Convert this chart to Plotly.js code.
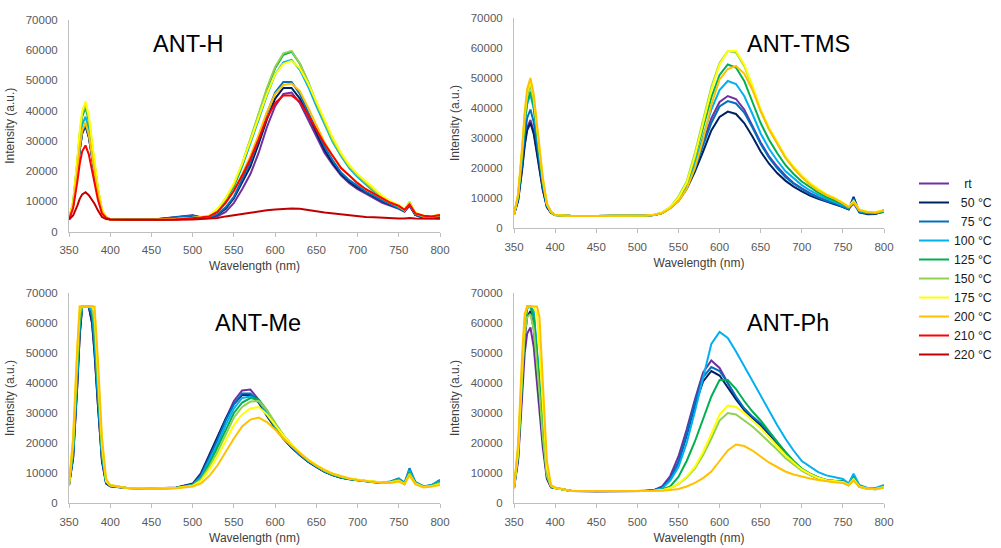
<!DOCTYPE html>
<html>
<head>
<meta charset="utf-8">
<script src="https://cdn.plot.ly/plotly-3.0.1.min.js"></script>
<style>html,body{margin:0;padding:0;background:#fff;}#chart{width:1001px;height:548px;}</style>
</head>
<body>
<div id="chart"></div>
<script>
// ---------------- DATA ----------------
const WAVELENGTH = [350,355,360,363,366,370,374,378,381,385,390,395,400,420,450,480,500,510,
  520,530,540,550,560,570,580,590,600,610,620,630,640,650,660,670,680,690,700,710,720,730,740,750,
  757,763,770,780,790,800];

const SERIES_NAMES = ['rt','50 °C','75 °C','100 °C','125 °C','150 °C','175 °C','200 °C','210 °C','220 °C'];
const PANEL_TITLES = ['ANT-H','ANT-TMS','ANT-Me','ANT-Ph'];

// ANT-H
const H_rt  = [4000,8650,19500,27250,32500,35000,31300,24450,18900,12400,6500,4600,4000,3900,3900,4800,5400,4700,
  4500,5000,6500,9500,14000,19000,26000,34500,41500,45500,46000,42500,37000,31000,26000,22000,18500,16000,14000,12500,11000,9500,8500,7500,
  6500,8500,5500,4500,4500,5000];
const H_50  = [4000,8650,19500,27250,32500,35000,31300,24450,18900,12400,6500,4600,4000,3900,3900,4600,5200,4600,
  4800,5500,7500,11000,16000,21500,29000,37000,44000,47500,47500,44000,38500,32500,27000,22500,19000,16500,14500,13000,11500,10000,8800,7800,
  6800,8800,5500,4600,4600,5000];
const H_75  = [4000,8700,19800,27600,33000,35500,31700,24800,19100,12500,6500,4600,4000,3900,3900,4700,5300,4600,
  4800,5700,8000,11500,17000,23000,30500,39000,46000,49500,49500,45500,39500,33500,28000,23500,19500,17000,15000,13200,11800,10200,9000,7800,
  6800,9000,5600,4700,4600,5000];
const H_100 = [4000,9100,21000,29500,35300,38000,33900,26450,20300,13200,6700,4700,4000,3900,3900,4200,4500,4600,
  5000,7000,10500,15000,21500,29000,37000,45000,52000,56000,56800,53500,48000,41500,35500,29500,25000,21000,18000,15500,13200,11000,9500,8200,
  7000,9300,6000,5000,4800,5300];
const H_125 = [4000,9550,22500,31750,38050,41000,36550,28400,21750,14000,6950,4750,4000,3900,3900,4100,4400,4600,
  5000,7000,10500,15000,22000,30000,38500,47000,54000,58500,59500,55500,49500,42500,36000,30000,25500,21500,18500,16000,13500,11000,9500,8200,
  7000,9700,6000,5000,4800,5500];
const H_150 = [4000,9700,23000,32500,38950,42000,37450,29100,22250,14250,7050,4750,4000,3900,3900,4100,4400,4700,
  5200,7200,11000,15500,22500,30500,39000,47500,54500,59000,59800,55500,49500,42500,36000,30000,25500,21500,18500,16000,13500,11200,9600,8300,
  7000,9800,6000,5000,4800,5500];
const H_175 = [4000,9850,23500,33250,39900,43000,38300,29750,22700,14550,7100,4800,4000,3900,3900,4100,4400,4800,
  5300,7500,11000,16000,22500,30000,38000,45500,52000,55500,56500,54000,49000,43000,37000,31000,26000,22000,19000,16500,14000,11800,10000,8800,
  7400,9500,6300,5300,5000,5700];
const H_200 = [4000,8800,20000,28000,33450,36000,32150,25100,19350,12650,6550,4650,4000,3900,3900,4100,4400,4700,
  5000,6500,9500,13500,19000,25000,32000,39500,45500,48500,49000,46500,41000,35000,29500,25000,21000,18500,16000,14000,12500,11000,9500,8500,
  7200,9200,6000,5200,5000,5500];
const H_210 = [4000,7700,16250,22400,26550,28500,25550,20150,15750,10600,5950,4500,4000,3900,3900,4000,4300,4600,
  5000,6500,9500,13500,18500,24000,30500,37500,42500,45000,45000,43000,38500,33500,29000,25000,21000,18500,16000,14000,12500,11000,9500,8500,
  7200,9000,6000,5200,5000,5500];
const H_220 = [4000,5300,8500,10800,12300,13000,12000,10500,9200,7000,4800,4100,4000,3900,3800,3900,4000,4100,
  4300,4500,5000,5300,5800,6200,6700,7000,7300,7500,7600,7500,7000,6700,6300,6000,5600,5300,5000,4800,4700,4500,4400,4300,
  4300,4500,4300,4200,4100,4200];

// ANT-TMS
const TMS_rt  = [4500,9200,20250,28100,33500,36000,32200,25300,19600,13000,7000,5100,4300,4000,4000,4000,4100,4200,
  4300,5000,6800,9500,14000,20500,28500,36500,42000,44000,43000,39500,34000,28500,24000,20500,17500,15000,13200,11600,10300,9200,8300,7200,
  6300,8200,5300,4800,4800,5300];
const TMS_50  = [4500,9100,19750,27400,32550,35000,31350,24650,19150,12750,6950,5100,4300,4000,4000,4000,4100,4200,
  4300,5000,6700,9000,13000,18800,25500,32500,37000,38800,38000,35000,30500,25500,21500,18300,15800,13800,12200,10800,9700,8800,8000,7000,
  6200,10400,5200,4600,4700,6000];
const TMS_75  = [4500,9750,22000,30750,36700,39500,35300,27600,21300,13950,7300,5200,4300,4000,4000,4000,4100,4200,
  4300,5000,6700,9300,13500,19800,27500,35000,40500,42300,41500,38500,33500,28000,23500,20000,17000,14800,13000,11400,10100,9000,8200,7200,
  6300,9800,5300,4800,4800,5500];
const TMS_100 = [4500,10500,24500,34500,41300,44500,39700,30900,23700,15300,7700,5300,4300,4000,4000,4000,4100,4200,
  4300,5000,6800,9500,14000,21500,30500,39500,46000,49000,48000,44000,38000,31500,26500,22500,19000,16500,14300,12500,11000,9800,8800,7600,
  6600,9000,5600,5000,5000,5500];
const TMS_125 = [4500,10650,25000,35250,42200,45500,40550,31550,24200,15550,7800,5300,4300,4000,4000,4000,4100,4200,
  4300,5000,6900,10000,15000,23500,33500,43500,51000,54500,53500,49000,42000,35000,29500,25000,21000,18000,15500,13500,11800,10300,9200,8000,
  6800,8800,5800,5100,5000,5600];
const TMS_150 = [4500,10950,26000,36750,44050,47500,42350,32900,25150,16100,7950,5350,4300,4000,4000,4000,4100,4200,
  4400,5100,7000,10500,15500,25000,36000,47000,55000,59000,58500,54000,47000,39000,33000,28000,23500,20000,17000,14500,12500,11000,9800,8300,
  7000,8800,6000,5300,5200,5800];
const TMS_175 = [4500,11200,26750,37900,45450,49000,43650,33850,25850,16500,8050,5400,4300,4000,4000,4000,4100,4200,
  4400,5100,7000,10000,15000,24000,35000,46000,54500,59000,59000,54500,47500,39500,33500,28500,24000,20500,17500,15000,13000,11200,10000,8500,
  7200,9000,6200,5400,5300,5900];
const TMS_200 = [4500,11300,27250,38600,46350,50000,44550,34500,26300,16800,8100,5400,4300,4000,4000,4000,4100,4200,
  4300,4900,6500,9000,13000,20000,29500,41000,49500,53000,54000,51500,46000,39000,33000,28000,23500,20000,17000,14500,12500,11000,9800,8300,
  7000,8500,6000,5300,5200,5800];

// ANT-Me
const ME_rt  = [6000,15000,39000,56000,65500,65500,65500,60000,50000,33000,14000,6500,5600,5000,4800,5200,6500,10000,
  16000,22000,28500,34000,37500,37800,34500,29500,25000,21500,18500,16000,13800,12000,10500,9300,8500,8000,7600,7300,7000,6800,7000,7800,
  6500,10500,6800,5500,5800,7300];
const ME_50  = [6000,15000,39000,56000,65500,65500,65500,60000,50000,33000,14000,6500,5600,5000,4800,5100,6300,9500,
  15500,21500,28000,33000,36000,36000,33500,29000,25000,21500,18500,16000,13800,12000,10400,9200,8400,7900,7500,7200,6900,6700,7000,7800,
  6500,10800,6800,5400,5800,7500];
const ME_75  = [6000,16000,41000,58000,65500,65500,65500,62000,52000,35000,15000,6800,5700,5000,4800,5100,6200,9200,
  15000,21000,27500,33000,36500,36500,34000,29500,25200,21700,18700,16100,13900,12100,10500,9300,8500,8000,7600,7300,7000,6800,7200,8200,
  6700,11600,7000,5500,6000,7700];
const ME_100 = [6000,17000,43000,60000,65500,65500,65500,64000,55000,37000,16000,7000,5800,5000,4800,5000,6000,8700,
  14000,19500,26000,31500,35000,35500,34000,30000,25500,22000,19000,16300,14000,12200,10600,9400,8600,8000,7600,7300,7000,6800,7100,8000,
  6600,11000,6900,5500,6000,7400];
const ME_125 = [6000,18000,45000,61000,65500,65500,65500,65500,58000,40000,17000,7000,5800,5000,4800,5000,5900,8200,
  13000,18500,24500,30000,33500,35000,34500,31000,26500,22500,19300,16500,14200,12300,10700,9500,8600,8000,7600,7300,7000,6800,7000,7800,
  6500,10200,6700,5400,5800,7000];
const ME_150 = [6000,19000,47000,63000,65500,65500,65500,65500,60000,42000,18000,7200,5800,5000,4800,5000,5800,7800,
  12000,17000,23000,28500,32000,33800,34000,31000,26700,22700,19500,16700,14400,12400,10800,9600,8700,8100,7700,7300,7000,6800,6900,7600,
  6400,9800,6600,5400,5700,6700];
const ME_175 = [6000,21000,50000,65500,65500,65500,65500,65500,64000,46000,20000,7500,6000,5000,4800,5000,5700,7300,
  11000,15500,21000,26000,29500,31500,32000,29500,26000,22500,19500,16800,14500,12600,11000,9800,8900,8200,7800,7400,7100,6800,6900,7400,
  6300,9500,6500,5300,5600,6300];
const ME_200 = [6000,22000,52000,65500,65500,65500,65500,65500,65500,48000,22000,8000,6000,5000,4700,4900,5500,6500,
  9000,12500,17000,21500,25500,27800,28500,27000,24500,21500,19000,16500,14300,12500,11000,9800,8900,8200,7700,7300,7000,6700,6700,7200,
  6200,9300,6300,5200,5500,6000];

// ANT-Ph
const PH_rt  = [5000,14000,36000,50000,56500,58500,52000,40000,30000,18500,8000,5200,5000,4000,3900,4000,4000,4000,
  4300,5500,9000,15500,24500,34500,43500,47500,45000,40000,35000,31500,28500,26000,23000,20000,16500,13500,11000,9500,8300,7500,7200,7000,
  6000,8000,5500,4800,4600,5500];
const PH_50  = [5000,15000,40000,55000,62000,64000,58000,44000,34000,21000,8500,5300,5000,4000,3900,4000,4000,4000,
  4300,5000,8000,13500,22500,32500,40500,44000,42500,38500,34500,31000,28300,26000,23000,20000,16500,13500,11000,9500,8300,7500,7200,7000,
  6000,8500,5500,4800,4700,5500];
const PH_75  = [5000,16500,43000,59000,65500,65500,63000,50000,39000,24000,9500,5500,5000,4000,3900,4000,4000,4000,
  4300,5000,8000,13700,23000,33500,42000,45300,44000,40000,35500,31500,28800,26500,23500,20300,16800,13800,11300,9700,8500,7700,7400,7300,
  6300,9000,5700,4900,4800,5600];
const PH_100 = [5000,17000,44000,60000,65500,65500,64000,52000,41000,25000,10000,5600,5000,4000,3900,4000,4000,4000,
  4200,4800,7500,12000,20000,30500,42000,53000,57000,55000,50500,45500,40500,35500,30500,26000,21500,17500,14000,12000,10300,9200,8500,8000,
  6500,9800,6000,5000,5000,6000];
const PH_125 = [5000,17000,44000,59000,65000,65500,62000,50000,40000,25000,10000,5500,5000,4000,3900,4000,4000,4000,
  4200,4500,5500,8700,14000,20500,28000,35500,41000,41000,38000,34000,30500,27500,24000,20500,17000,14000,11500,9800,8500,7600,7200,7000,
  6000,8300,5500,4800,4700,5300];
const PH_150 = [5000,16000,42000,56000,62000,63000,58000,46000,36000,22000,9000,5500,5000,4000,3900,4000,4000,4000,
  4100,4300,5000,6300,8500,11500,16000,21500,27500,30000,29500,27500,25500,23000,20500,17800,15000,12800,10800,9300,8200,7400,7000,6800,
  5900,7800,5400,4700,4600,5200];
const PH_175 = [5000,18000,47000,62000,65500,65500,65500,63000,52000,33000,12000,6000,5000,4000,3900,4000,4000,4000,
  4100,4300,5000,6400,8800,12000,17000,23000,29500,32500,32000,30000,27500,25000,22000,19000,16000,13500,11200,9600,8400,7600,7200,7000,
  6000,8000,5500,4800,4700,5300];
const PH_200 = [5000,20000,50000,63000,65500,65500,65500,65500,62000,40000,14000,6000,5200,4000,3900,4000,4000,4000,
  4000,4100,4300,4700,5500,6700,8300,10500,14000,17500,19500,19000,17500,15500,13500,12000,10500,9500,8800,8200,7700,7200,6900,6700,
  5900,7500,5400,4800,4700,5200];

// ---------------- STYLE ----------------
const COLORS = ['#7030A0','#002060','#0070C0','#00B0F0','#00B050','#92D050','#FFFF00','#FFC000','#FF0000','#C00000'];
const FONT = 'Liberation Sans, Arial, sans-serif';

const panels = [
  {series:[H_rt,H_50,H_75,H_100,H_125,H_150,H_175,H_200,H_210,H_220], xa:'x',  ya:'y',  legend:true},
  {series:[TMS_rt,TMS_50,TMS_75,TMS_100,TMS_125,TMS_150,TMS_175,TMS_200], xa:'x2', ya:'y2', legend:false},
  {series:[ME_rt,ME_50,ME_75,ME_100,ME_125,ME_150,ME_175,ME_200], xa:'x3', ya:'y3', legend:false},
  {series:[PH_rt,PH_50,PH_75,PH_100,PH_125,PH_150,PH_175,PH_200], xa:'x4', ya:'y4', legend:false}
];

// right-align legend labels with figure spaces
function legendLabel(n){
  if (n === 'rt') return '\u2007\u00a0rt';
  if (n.length === 5) return '\u2007' + n;
  return n;
}

const traces = [];
panels.forEach(p => {
  p.series.forEach((vals, i) => {
    traces.push({
      x: WAVELENGTH, y: vals, type: 'scatter', mode: 'lines',
      name: legendLabel(SERIES_NAMES[i]),
      legendgroup: SERIES_NAMES[i],
      showlegend: p.legend,
      line: {color: COLORS[i], width: 2},
      xaxis: p.xa, yaxis: p.ya, hoverinfo: 'skip'
    });
  });
});

function xAxis(domain, anchor){
  return {
    domain: domain, anchor: anchor, range: [350, 800], tick0: 350, dtick: 50,
    showline: true, linecolor: '#BFBFBF', linewidth: 1, mirror: false,
    ticks: 'outside', ticklen: 4, tickcolor: '#BFBFBF', tickwidth: 1,
    showgrid: false, zeroline: false, ticklabelstandoff: 4,
    tickfont: {family: FONT, size: 11.5, color: '#595959'},
    title: {text: 'Wavelength (nm)', font: {family: FONT, size: 12, color: '#404040'}, standoff: 6},
    fixedrange: true
  };
}
function yAxis(domain, anchor){
  return {
    domain: domain, anchor: anchor, range: [0, 70000], tick0: 0, dtick: 10000, tickformat: 'd',
    showline: true, linecolor: '#BFBFBF', linewidth: 1,
    ticks: '', showgrid: false, zeroline: false, ticklabelstandoff: 8,
    tickfont: {family: FONT, size: 11.5, color: '#595959'},
    title: {text: 'Intensity (a.u.)', font: {family: FONT, size: 12, color: '#404040'}, standoff: 8},
    fixedrange: true
  };
}

const W = 1001, H = 548;
const XL = [69/W, 440/W], XR = [514/W, 884/W];
const Y1 = [1-231.5/H, 1-20/H], Y2 = [1-228/H, 1-18/H], YB = [1-503/H, 1-293/H];

const titlePos = [[188,44],[798,44],[258,322.5],[788,322.5]];
const annotations = PANEL_TITLES.map((t, i) => ({
  text: t, xref: 'paper', yref: 'paper',
  x: titlePos[i][0]/W, y: 1 - titlePos[i][1]/H,
  xanchor: 'center', yanchor: 'middle', showarrow: false,
  font: {family: FONT, size: 23.5, color: '#000000'}
}));

const layout = {
  width: W, height: H,
  margin: {l: 0, r: 0, t: 0, b: 0},
  paper_bgcolor: '#ffffff', plot_bgcolor: '#ffffff',
  font: {family: FONT},
  xaxis: xAxis(XL, 'y'), yaxis: yAxis(Y1, 'x'),
  xaxis2: xAxis(XR, 'y2'), yaxis2: yAxis(Y2, 'x2'),
  xaxis3: xAxis(XL, 'y3'), yaxis3: yAxis(YB, 'x3'),
  xaxis4: xAxis(XR, 'y4'), yaxis4: yAxis(YB, 'x4'),
  showlegend: true,
  legend: {
    x: 914/W, y: 1 - 169/H, xanchor: 'left', yanchor: 'top',
    font: {family: FONT, size: 12.3, color: '#1a1a1a'},
    bgcolor: 'rgba(0,0,0,0)', borderwidth: 0, tracegroupgap: 0, itemwidth: 30,
    traceorder: 'normal'
  },
  annotations: annotations
};

Plotly.newPlot('chart', traces, layout, {staticPlot: true, displayModeBar: false});
</script>
</body>
</html>
